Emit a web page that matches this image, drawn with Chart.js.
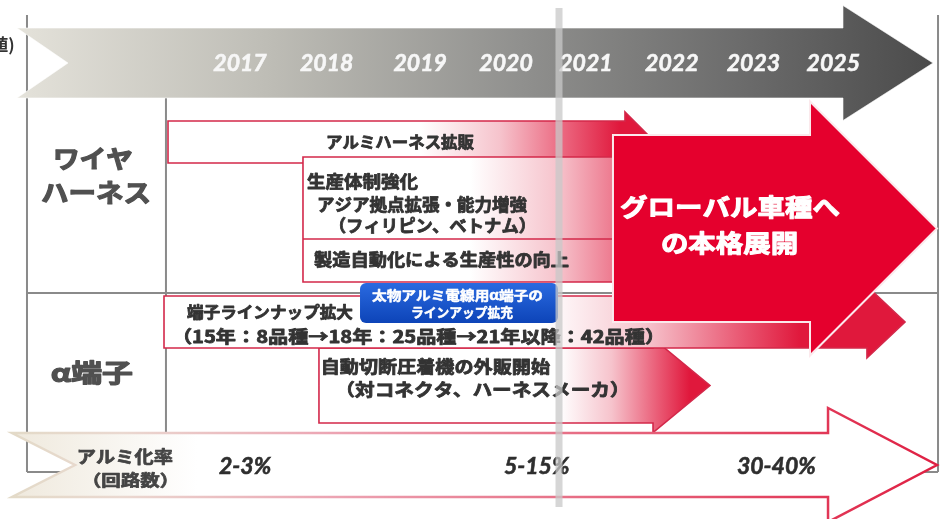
<!DOCTYPE html>
<html lang="ja">
<head>
<meta charset="utf-8">
<title>アルミ化ロードマップ</title>
<script src="https://cdn.jsdelivr.net/npm/chart.js@4.4.1/dist/chart.umd.min.js"></script>
<style>
  html, body { margin: 0; padding: 0; background: #fff; }
  canvas { display: block; }
</style>
</head>
<body>
<canvas id="roadmap" width="942" height="519"></canvas>
<script>
// x: timeline slots (0 = 2017 column, 1 slot per year column)
// y: layout rows (0 at top, downward)
const years = ['2017', '2018', '2019', '2020', '2021', '2022', '2023', '2025'];
const yearPos = [0, 1.02, 2.12, 3.13, 4.07, 5.08, 6.04, 6.98];

// アルミ化率 along the bottom arrow
const rateLabels = ['2-3%', '5-15%', '30-40%'];
const ratePos = [0.06, 3.49, 6.31];

// initiatives (bars / arrows)
const planNames  = ['alumi', 'seisan', 'jidou', 'tanshi', 'global'];
const planStart  = [-0.847, 0.741, 0.929, -0.894, 4.388];
const planEnd    = [4.529, 4.6, 4.859, 7.376, 6.706];   // end of the body
const planTip    = [4.882, null, 5.529, 7.824, 8.2];    // arrow tip
const planTop    = [12.1, 15.7, 34.8, 29.6, 13.5];
const planBottom = [16.3, 28.2, 42.3, 34.8, 32.2];
const planHead   = [3.0, 0, 4.7, 3.6, 12.7];            // half height of the head
const fadeFrom   = [2.12, 2.71, 3.76, 3.59, null];
const fadeTo     = [4.47, 5.29, 5.29, 6.59, null];

// labels inside the bars: text, ink left, ink right, centre row, size
const planText = [
  ['アルミハーネス拡販', 1.024, 2.753, 14.2, 16],
  ['生産体制強化', 0.788, 2.094, 18.2, 17],
  ['アジア拠点拡張・能力増強', 0.918, 3.376, 20.5, 17],
  ['（フィリピン、ベトナム）', 1.176, 3.353, 22.6, 17],
  ['製造自動化による生産性の向上', 0.871, 3.871, 26.0, 17],
  ['端子ラインナップ拡大', -0.624, 1.329, 31.2, 16],
  ['（15年：8品種→18年：25品種→21年以降：42品種）', -0.647, 4.847, 33.7, 17],
  ['自動切断圧着機の外販開始', 0.976, 3.647, 36.7, 17],
  ['（対コネクタ、ハーネスメーカ）', 1.271, 4.435, 39.0, 17]
];
const globalText = [
  ['グローバル車種へ', 4.471, 7.059, 20.7, 24],
  ['の本格展開', 4.965, 6.553, 24.3, 24]
];
const noteText = [
  ['太物アルミ電線用α端子の', 1.553, 3.565, 29.5, 13],
  ['ラインアップ拡充', 2.024, 3.212, 31.2, 13]
];
const rowHeads = [
  ['ワイヤ', -2.176, -1.271, 15.8, 25],
  ['ハーネス', -2.329, -1.059, 19.2, 25],
  ['α端子', -2.212, -1.259, 37.2, 25],
  ['アルミ化率', -1.906, -0.788, 45.7, 17],
  ['（回路数）', -1.718, -0.859, 48.0, 16]
];

// table frame
const tableLeft = -2.506, tableRight = 8.212, tableCol = -0.871;
const tableTop = 1.5, tableHead = 9.8, tableRow = 29.3, tableBottom = 47.2;

// timeline arrows: start, notch, body end, tip, top, bottom, head half
const topBand = [-2.624, -2.024, 7.094, 8.153, 2.8, 9.8, 5.75];
const rateBand = [-2.682, -1.941, 6.918, 8.2, 43.3, 49.7, 5.7];
const noteBox = [1.412, 3.741, 28.3, 32.3];
const nowLine = [3.753, 0.8, 50.7];

const CJK = '"Noto Sans CJK JP", "Noto Sans", sans-serif';
const RED = '#e5002d';
const EDGE = '#d3284a';

function arrowPath(ctx, xs, xn, xb, xt, yt, yb, hh) {
  const yc = (yt + yb) / 2;
  ctx.beginPath();
  ctx.moveTo(xs, yt);
  ctx.lineTo(xb, yt);
  if (xt !== null) {
    ctx.lineTo(xb, yc - hh);
    ctx.lineTo(xt, yc);
    ctx.lineTo(xb, yc + hh);
  }
  ctx.lineTo(xb, yb);
  ctx.lineTo(xs, yb);
  if (xn !== null) ctx.lineTo(xn, yc);
  ctx.closePath();
}

// draw text so its ink spans [xl, xr]; a thin stroke makes it heavier
function fitText(ctx, text, xl, xr, yc, size, color, weight) {
  ctx.save();
  ctx.font = 'bold ' + size + 'px ' + CJK;
  ctx.textAlign = 'left';
  ctx.textBaseline = 'middle';
  const m = ctx.measureText(text);
  const ink = m.actualBoundingBoxLeft + m.actualBoundingBoxRight;
  ctx.translate(xl, yc);
  ctx.scale((xr - xl) / ink, 1);
  ctx.fillStyle = color;
  ctx.strokeStyle = color;
  ctx.lineWidth = weight;
  ctx.lineJoin = 'round';
  ctx.strokeText(text, m.actualBoundingBoxLeft, 0);
  ctx.fillText(text, m.actualBoundingBoxLeft, 0);
  ctx.restore();
}

const roadmapPlugin = {
  id: 'roadmap',
  beforeDatasetsDraw(chart) {
    const ctx = chart.ctx;
    const X = v => chart.scales.x.getPixelForValue(v);
    const Y = v => chart.scales.y.getPixelForValue(v);
    const sy = Y(1) - Y(0);

    // table frame
    ctx.save();
    ctx.strokeStyle = '#8a8a8a';
    ctx.lineWidth = 2;
    ctx.beginPath();
    ctx.moveTo(X(tableLeft), Y(tableTop)); ctx.lineTo(X(tableLeft), Y(tableBottom));
    ctx.moveTo(X(tableRight), Y(tableTop)); ctx.lineTo(X(tableRight), Y(tableBottom));
    ctx.moveTo(X(tableCol), Y(tableHead)); ctx.lineTo(X(tableCol), Y(tableBottom));
    ctx.moveTo(X(tableLeft), Y(tableRow)); ctx.lineTo(X(tableRight), Y(tableRow));
    ctx.moveTo(X(tableLeft), Y(tableBottom)); ctx.lineTo(X(tableRight), Y(tableBottom));
    ctx.stroke();
    ctx.restore();

    // year band
    const tb = topBand;
    const g = ctx.createLinearGradient(X(tb[0]), 0, X(tb[3]), 0);
    g.addColorStop(0, '#e4e2da');
    g.addColorStop(0.28, '#bdbcb5');
    g.addColorStop(0.55, '#90908e');
    g.addColorStop(0.8, '#6a6a6a');
    g.addColorStop(1, '#4b4b4b');
    arrowPath(ctx, X(tb[0]), X(tb[1]), X(tb[2]), X(tb[3]), Y(tb[4]), Y(tb[5]), tb[6] * sy);
    ctx.fillStyle = g;
    ctx.fill();
    ctx.strokeStyle = 'rgba(255,255,255,0.6)';
    ctx.lineWidth = 1;
    ctx.stroke();

    ctx.save();
    ctx.font = 'italic bold 23px Lato, "Liberation Sans", sans-serif';
    ctx.textAlign = 'center';
    ctx.textBaseline = 'middle';
    ctx.fillStyle = '#f7f7f7';
    ctx.strokeStyle = '#f7f7f7';
    ctx.lineWidth = 0.6;
    years.forEach((yr, i) => {
      ctx.strokeText(yr, X(yearPos[i]), Y((tb[4] + tb[5]) / 2) + 1);
      ctx.fillText(yr, X(yearPos[i]), Y((tb[4] + tb[5]) / 2) + 1);
    });
    ctx.restore();

    // initiative bars
    planNames.forEach((name, i) => {
      const xs = X(planStart[i]), xb = X(planEnd[i]);
      const xt = planTip[i] === null ? null : X(planTip[i]);
      arrowPath(ctx, xs, null, xb, xt, Y(planTop[i]), Y(planBottom[i]), planHead[i] * sy);
      if (fadeFrom[i] === null) {
        ctx.fillStyle = RED;
        ctx.fill();
        ctx.strokeStyle = '#fbe9ec';
        ctx.lineWidth = 2;
        ctx.stroke();
      } else {
        const fg = ctx.createLinearGradient(X(fadeFrom[i]), 0, X(fadeTo[i]), 0);
        fg.addColorStop(0, '#ffffff');
        fg.addColorStop(0.4, '#f6c3cc');
        fg.addColorStop(0.75, '#ea5d77');
        fg.addColorStop(1, '#e0183c');
        ctx.fillStyle = fg;
        ctx.fill();
        ctx.strokeStyle = EDGE;
        ctx.lineWidth = 1.6;
        ctx.stroke();
      }
      if (name === 'seisan') {
        ctx.beginPath();
        ctx.moveTo(xs, Y(23.9));
        ctx.lineTo(xb, Y(23.9));
        ctx.strokeStyle = EDGE;
        ctx.lineWidth = 1.6;
        ctx.stroke();
      }
    });

    // blue note
    const nb = noteBox;
    const bg = ctx.createLinearGradient(0, Y(nb[2]), 0, Y(nb[3]));
    bg.addColorStop(0, '#2a6ae0');
    bg.addColorStop(1, '#0d44b8');
    ctx.beginPath();
    ctx.roundRect(X(nb[0]), Y(nb[2]), X(nb[1]) - X(nb[0]), Y(nb[3]) - Y(nb[2]), 6);
    ctx.fillStyle = bg;
    ctx.fill();

    // アルミ化率 band
    const rb = rateBand;
    const rf = ctx.createLinearGradient(X(rb[0]), 0, X(rb[3]), 0);
    rf.addColorStop(0, '#efe9dd');
    rf.addColorStop(0.2, '#ffffff');
    rf.addColorStop(1, '#ffffff');
    const rs = ctx.createLinearGradient(X(rb[0]), 0, X(rb[3]), 0);
    rs.addColorStop(0, '#e3dac8');
    rs.addColorStop(0.12, '#ead8d0');
    rs.addColorStop(0.35, '#eca3b2');
    rs.addColorStop(1, '#df1f42');
    arrowPath(ctx, X(rb[0]), X(rb[1]), X(rb[2]), X(rb[3]), Y(rb[4]), Y(rb[5]), rb[6] * sy);
    ctx.fillStyle = rf;
    ctx.fill();
    ctx.strokeStyle = rs;
    ctx.lineWidth = 2.5;
    ctx.stroke();

    ctx.save();
    ctx.font = 'italic bold 23px Lato, "Liberation Sans", sans-serif';
    ctx.textAlign = 'center';
    ctx.textBaseline = 'middle';
    ctx.fillStyle = '#2e2e2e';
    ctx.strokeStyle = '#2e2e2e';
    ctx.lineWidth = 0.6;
    rateLabels.forEach((t, i) => {
      ctx.strokeText(t, X(ratePos[i]), Y(46.7));
      ctx.fillText(t, X(ratePos[i]), Y(46.7));
    });
    ctx.restore();

    // texts
    planText.forEach(t => fitText(ctx, t[0], X(t[1]), X(t[2]), Y(t[3]), t[4], '#333333', 0.8));
    globalText.forEach(t => fitText(ctx, t[0], X(t[1]), X(t[2]), Y(t[3]), t[4], '#ffffff', 1));
    noteText.forEach(t => fitText(ctx, t[0], X(t[1]), X(t[2]), Y(t[3]), t[4], '#ffffff', 0.5));
    rowHeads.forEach(t => fitText(ctx, t[0], X(t[1]), X(t[2]), Y(t[3]), t[4],
      t[4] > 20 ? '#505050' : '#444444', t[4] > 20 ? 1.2 : 0.7));

    // cut-off unit note at the top left
    ctx.save();
    ctx.font = 'bold 17px ' + CJK;
    ctx.textAlign = 'right';
    ctx.textBaseline = 'middle';
    ctx.fillStyle = '#333333';
    ctx.fillText('値)', X(-2.65), Y(4.5));
    ctx.restore();

    // translucent "now" line
    ctx.save();
    ctx.strokeStyle = 'rgba(200,200,200,0.75)';
    ctx.lineWidth = 7;
    ctx.beginPath();
    ctx.moveTo(X(nowLine[0]), Y(nowLine[1]));
    ctx.lineTo(X(nowLine[0]), Y(nowLine[2]));
    ctx.stroke();
    ctx.restore();
  }
};

new Chart(document.getElementById('roadmap'), {
  type: 'scatter',
  data: { datasets: [] },
  options: {
    responsive: false,
    animation: false,
    layout: { padding: 0 },
    scales: {
      x: { type: 'linear', min: -2.8235, max: 8.2588, display: false },
      y: { type: 'linear', min: 0, max: 51.9, reverse: true, display: false }
    },
    plugins: {
      legend: { display: false },
      tooltip: { enabled: false }
    }
  },
  plugins: [roadmapPlugin]
});
</script>
</body>
</html>
